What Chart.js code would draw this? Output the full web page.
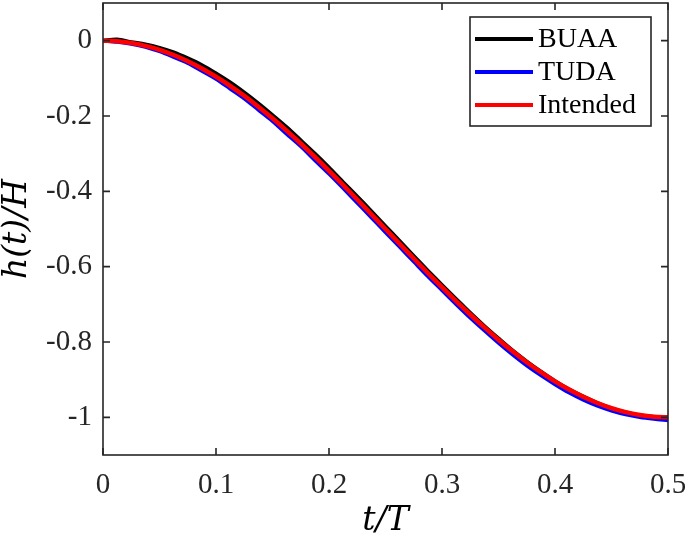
<!DOCTYPE html>
<html>
<head>
<meta charset="utf-8">
<script src="https://cdn.jsdelivr.net/npm/chart.js@4.4.1/dist/chart.umd.min.js"></script>
<style>
  body { margin: 0; background: #fff; }
  #wrap { width: 685px; height: 541px; }
</style>
</head>
<body>
<div id="wrap"><canvas id="chart" width="685" height="541"></canvas></div>
<script>
// measured time samples (t/T)
const tMeasured = [
  0, 0.0125, 0.025, 0.0375, 0.05, 0.0625, 0.075, 0.0875, 0.1, 0.1125,
  0.125, 0.1375, 0.15, 0.1625, 0.175, 0.1875, 0.2, 0.2125, 0.225, 0.2375,
  0.25, 0.2625, 0.275, 0.2875, 0.3, 0.3125, 0.325, 0.3375, 0.35, 0.3625,
  0.375, 0.3875, 0.4, 0.4125, 0.425, 0.4375, 0.45, 0.4625, 0.475, 0.4875, 0.5
];
const buaa = [
  0, 0.003, -0.004, -0.010, -0.019, -0.031, -0.047, -0.065, -0.087, -0.111,
  -0.138, -0.167, -0.198, -0.230, -0.265, -0.300, -0.337, -0.376, -0.414, -0.453,
  -0.493, -0.532, -0.572, -0.611, -0.649, -0.686, -0.723, -0.758, -0.791, -0.823,
  -0.852, -0.879, -0.904, -0.926, -0.945, -0.962, -0.976, -0.987, -0.995, -0.999, -1.001
];
const tuda = [
  0, -0.003, -0.008, -0.016, -0.028, -0.043, -0.059, -0.080, -0.101, -0.127,
  -0.153, -0.183, -0.213, -0.247, -0.280, -0.317, -0.353, -0.391, -0.430, -0.469,
  -0.508, -0.547, -0.586, -0.625, -0.662, -0.699, -0.735, -0.769, -0.802, -0.833,
  -0.862, -0.888, -0.912, -0.934, -0.953, -0.969, -0.982, -0.992, -0.999, -1.004, -1.008
];
// intended motion, read at the same samples
const intended = [
  0, -0.0015, -0.0062, -0.0138, -0.0245, -0.0381, -0.0545, -0.0737, -0.0955, -0.1198,
  -0.1464, -0.1753, -0.2061, -0.2388, -0.2730, -0.3087, -0.3455, -0.3833, -0.4218, -0.4608,
  -0.5, -0.5392, -0.5782, -0.6167, -0.6545, -0.6913, -0.7270, -0.7613, -0.7939, -0.8247,
  -0.8536, -0.8802, -0.9045, -0.9263, -0.9455, -0.9619, -0.9755, -0.9862, -0.9938, -0.9985, -1
];
const seriesNames = ["BUAA", "TUDA", "Intended"];
const seriesColors = ["#000000", "#0000ff", "#ff0000"];
const xTicks = [0, 0.1, 0.2, 0.3, 0.4, 0.5];
const yTicks = [-1, -0.8, -0.6, -0.4, -0.2, 0];

const axisColor = "#262626";
const tickFont = { family: "'Liberation Serif', 'DejaVu Serif', serif", size: 29 };
const titleFont = { family: "'DejaVu Serif', 'Liberation Serif', serif", size: 33, style: "italic", lineHeight: 1 };

const toXY = (ys) => ys.map((y, i) => ({ x: tMeasured[i], y: y }));

// box + inward ticks on all four sides
const frame = {
  id: "frame",
  afterDraw(chart) {
    const { ctx, chartArea: a, scales } = chart;
    const len = 7;
    ctx.save();
    ctx.strokeStyle = axisColor;
    ctx.lineWidth = 1.6;
    ctx.strokeRect(a.left, a.top, a.right - a.left, a.bottom - a.top);
    ctx.beginPath();
    xTicks.forEach(v => {
      const px = scales.x.getPixelForValue(v);
      ctx.moveTo(px, a.bottom); ctx.lineTo(px, a.bottom - len);
      ctx.moveTo(px, a.top); ctx.lineTo(px, a.top + len);
    });
    yTicks.forEach(v => {
      const py = scales.y.getPixelForValue(v);
      ctx.moveTo(a.left, py); ctx.lineTo(a.left + len, py);
      ctx.moveTo(a.right, py); ctx.lineTo(a.right - len, py);
    });
    ctx.stroke();
    ctx.restore();
  }
};

// legend inside the plot, top right
const insideLegend = {
  id: "insideLegend",
  afterDraw(chart) {
    const ctx = chart.ctx;
    const box = { x: 470, y: 17, w: 181, h: 109 };
    ctx.save();
    ctx.fillStyle = "#fff";
    ctx.fillRect(box.x, box.y, box.w, box.h);
    ctx.strokeStyle = axisColor;
    ctx.lineWidth = 1.6;
    ctx.strokeRect(box.x, box.y, box.w, box.h);
    ctx.font = "28px 'Liberation Serif', 'DejaVu Serif', serif";
    ctx.textBaseline = "middle";
    chart.data.datasets.forEach((ds, i) => {
      const y = box.y + 22 + i * 33;
      ctx.strokeStyle = ds.borderColor;
      ctx.lineWidth = 4;
      ctx.beginPath();
      ctx.moveTo(box.x + 5, y);
      ctx.lineTo(box.x + 63, y);
      ctx.stroke();
      ctx.fillStyle = "#000";
      ctx.fillText(ds.label, box.x + 68, y + 1);
    });
    ctx.restore();
  }
};

new Chart(document.getElementById("chart"), {
  type: "line",
  data: {
    datasets: [
      { label: seriesNames[0], data: toXY(buaa), borderColor: seriesColors[0], borderWidth: 4, order: 3 },
      { label: seriesNames[1], data: toXY(tuda), borderColor: seriesColors[1], borderWidth: 4, order: 2 },
      { label: seriesNames[2], data: toXY(intended), borderColor: seriesColors[2], borderWidth: 4.5, order: 1 }
    ]
  },
  options: {
    responsive: false,
    animation: false,
    layout: { padding: { top: 3, right: 17, left: 0, bottom: 0 } },
    elements: { point: { radius: 0 }, line: { tension: 0.3, borderCapStyle: "round", borderJoinStyle: "round" } },
    plugins: { legend: { display: false }, tooltip: { enabled: false } },
    scales: {
      x: {
        type: "linear",
        min: 0,
        max: 0.5,
        afterBuildTicks: (s) => { s.ticks = xTicks.map(v => ({ value: v })); },
        afterFit: (s) => { s.height = 86; s.paddingLeft = 0; s.paddingRight = 0; },
        grid: { display: false, drawTicks: false },
        border: { display: false },
        ticks: { color: axisColor, font: tickFont, padding: 13, maxRotation: 0, autoSkip: false, callback: (v) => String(v) },
        title: { display: true, text: "t/T", color: "#000", font: titleFont, padding: { top: 0, bottom: 3 } }
      },
      y: {
        min: -1.1,
        max: 0.1,
        afterBuildTicks: (s) => { s.ticks = yTicks.map(v => ({ value: v })); },
        afterFit: (s) => { s.width = 103; s.paddingTop = 0; s.paddingBottom = 0; },
        grid: { display: false, drawTicks: false },
        border: { display: false },
        ticks: { color: axisColor, font: tickFont, padding: 11, autoSkip: false, callback: (v) => String(v) },
        title: { display: true, text: "h(t)/H", color: "#000", font: titleFont, padding: { top: 1, bottom: 0 } }
      }
    }
  },
  plugins: [frame, insideLegend]
});
</script>
</body>
</html>
